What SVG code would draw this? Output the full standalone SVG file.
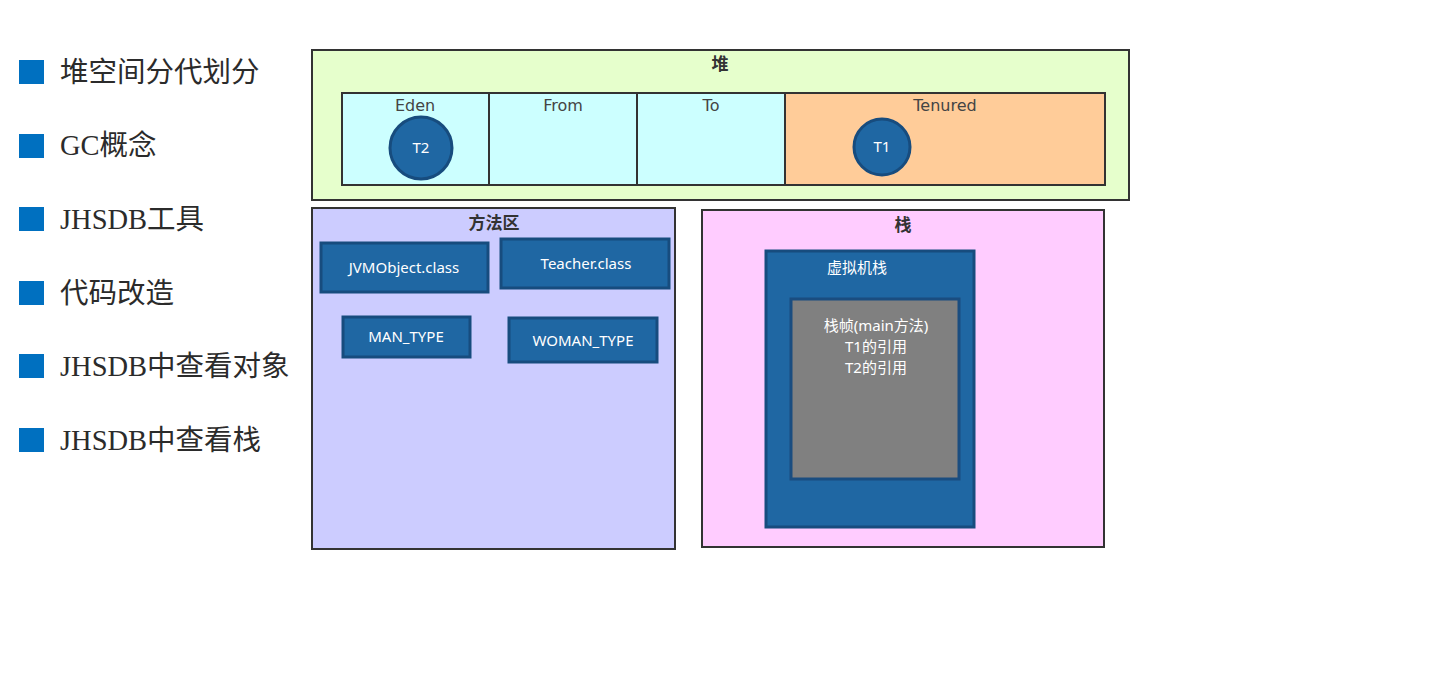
<svg xmlns="http://www.w3.org/2000/svg" width="1431" height="693" viewBox="0 0 1431 693">
<style>
.menu{font-family:"Liberation Serif","Noto Sans CJK SC",serif;font-size:28.5px;fill:#2b2b2b}
.bullet{fill:#0070C0}
.box{stroke:#333;stroke-width:2}
.title{font-family:"Noto Sans CJK SC","Noto Sans",sans-serif;font-size:17px;font-weight:bold;fill:#333;text-anchor:middle}
.lbl{font-family:"DejaVu Sans","Noto Sans",sans-serif;font-size:16px;fill:#444;text-anchor:middle}
.blue{fill:#1F67A3;stroke:#174C7E;stroke-width:3}
.wt{font-family:"Noto Sans","Noto Sans CJK SC",sans-serif;font-size:15px;fill:#fff;text-anchor:middle}
</style>
<rect width="1431" height="693" fill="#fff"/>
<g id="menu">
<rect class="bullet" x="19" y="60" width="25" height="24"/><text class="menu" x="60" y="82">堆空间分代划分</text>
<rect class="bullet" x="19" y="134" width="25" height="24"/><text class="menu" x="60" y="155">GC概念</text>
<rect class="bullet" x="19" y="207" width="25" height="24"/><text class="menu" x="60" y="229">JHSDB工具</text>
<rect class="bullet" x="19" y="281" width="25" height="24"/><text class="menu" x="60" y="303">代码改造</text>
<rect class="bullet" x="19" y="354" width="25" height="24"/><text class="menu" x="60" y="376">JHSDB中查看对象</text>
<rect class="bullet" x="19" y="428" width="25" height="24"/><text class="menu" x="60" y="450">JHSDB中查看栈</text>
</g>
<g id="heap">
<rect class="box" x="312" y="50" width="817" height="150" fill="#E6FFCC"/>
<text class="title" x="720" y="70">堆</text>
</g>
<g id="eden">
<rect class="box" x="342" y="93" width="147" height="92" fill="#CCFFFF"/>
<text class="lbl" x="415" y="111">Eden</text>
</g>
<g id="from">
<rect class="box" x="489" y="93" width="148" height="92" fill="#CCFFFF"/>
<text class="lbl" x="563" y="111">From</text>
</g>
<g id="to">
<rect class="box" x="637" y="93" width="148" height="92" fill="#CCFFFF"/>
<text class="lbl" x="711" y="111">To</text>
</g>
<g id="tenured">
<rect class="box" x="785" y="93" width="320" height="92" fill="#FFCC99"/>
<text class="lbl" x="945" y="111">Tenured</text>
</g>
<g id="t2">
<circle class="blue" cx="421" cy="148" r="31" stroke-width="2.5"/>
<text class="wt" x="421" y="153">T2</text>
</g>
<g id="t1">
<circle class="blue" cx="882" cy="147" r="28" stroke-width="2.5"/>
<text class="wt" x="882" y="152">T1</text>
</g>
<g id="method-area">
<rect class="box" x="312" y="208" width="363" height="341" fill="#CCCCFF"/>
<text class="title" x="494" y="229">方法区</text>
</g>
<g id="jvmobject">
<rect class="blue" x="321" y="243" width="167" height="49"/>
<text class="wt" x="404" y="273">JVMObject.class</text>
</g>
<g id="teacher">
<rect class="blue" x="501" y="239" width="168" height="49"/>
<text class="wt" x="586" y="269">Teacher.class</text>
</g>
<g id="man-type">
<rect class="blue" x="343" y="317" width="127" height="40"/>
<text class="wt" x="406" y="342">MAN_TYPE</text>
</g>
<g id="woman-type">
<rect class="blue" x="509" y="318" width="148" height="44"/>
<text class="wt" x="583" y="346">WOMAN_TYPE</text>
</g>
<g id="stack">
<rect class="box" x="702" y="210" width="402" height="337" fill="#FFCCFF"/>
<text class="title" x="903" y="231">栈</text>
</g>
<g id="vm-stack">
<rect class="blue" x="766" y="251" width="208" height="276"/>
<text class="wt" x="857" y="273" font-size="16">虚拟机栈</text>
</g>
<g id="frame">
<rect x="791" y="299" width="168" height="180" fill="#808080" stroke="#1A4D80" stroke-width="3"/>
<text class="wt" x="876" y="331" font-size="16">栈帧(main方法)</text>
<text class="wt" x="876" y="352" font-size="16">T1的引用</text>
<text class="wt" x="876" y="373" font-size="16">T2的引用</text>
</g>
<g id="connectors"/>
</svg>
